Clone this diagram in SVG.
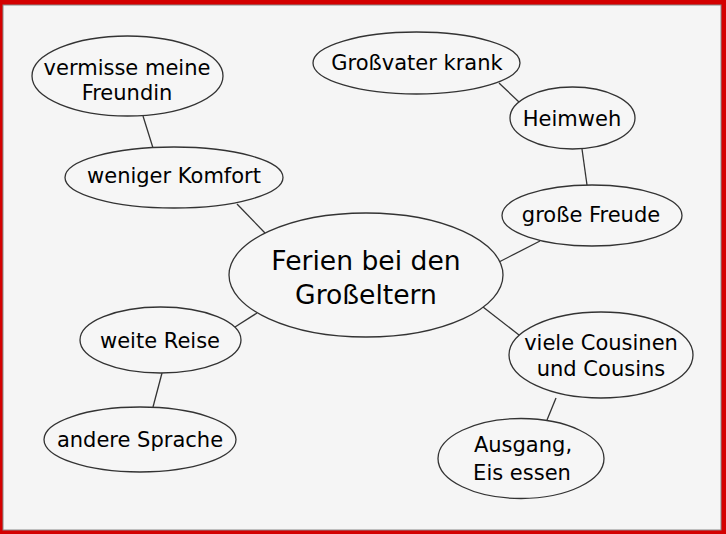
<svg xmlns="http://www.w3.org/2000/svg" width="726" height="534" viewBox="0 0 726 534">
<style>
.n ellipse{fill:#f6f6f6;stroke:#333;stroke-width:1.3}
.n text{font-family:"DejaVu Sans","Noto Sans",sans-serif;font-size:21px;fill:#000;text-anchor:middle}
#central text{font-size:26.6px}
#connectors line{stroke:#333;stroke-width:1.3}
</style>
<rect x="0" y="0" width="726" height="534" fill="#d40000"/>
<rect x="3" y="5" width="718" height="525" fill="#f5f5f5" stroke="#888" stroke-width="1"/>
<g id="connectors">
<line x1="143" y1="116" x2="153" y2="148"/>
<line x1="237" y1="204" x2="265" y2="233"/>
<line x1="499" y1="83" x2="519" y2="102"/>
<line x1="582" y1="149" x2="587" y2="185"/>
<line x1="540" y1="241" x2="499" y2="262"/>
<line x1="483" y1="307" x2="519" y2="335"/>
<line x1="257" y1="313" x2="235" y2="327"/>
<line x1="162" y1="373" x2="153" y2="407"/>
<line x1="556" y1="398" x2="547" y2="420"/>
</g>
<g id="vermisse" class="n"><ellipse cx="127.5" cy="76" rx="95.5" ry="40"/><text x="127" y="75">vermisse meine</text><text x="127" y="100">Freundin</text></g>
<g id="weniger" class="n"><ellipse cx="174" cy="177.5" rx="109" ry="30.5"/><text x="174" y="183">weniger Komfort</text></g>
<g id="grossvater" class="n"><ellipse cx="416.5" cy="63" rx="103.5" ry="31"/><text x="417" y="70">Großvater krank</text></g>
<g id="heimweh" class="n"><ellipse cx="572.5" cy="118" rx="62.5" ry="31"/><text x="572" y="126">Heimweh</text></g>
<g id="freude" class="n"><ellipse cx="592" cy="215.5" rx="90" ry="30.5"/><text x="591" y="222">große Freude</text></g>
<g id="central" class="n"><ellipse cx="366" cy="275" rx="137" ry="62"/><text x="366" y="270">Ferien bei den</text><text x="366" y="304">Großeltern</text></g>
<g id="reise" class="n"><ellipse cx="160.5" cy="340" rx="80.5" ry="33"/><text x="160" y="348">weite Reise</text></g>
<g id="sprache" class="n"><ellipse cx="140" cy="439.5" rx="96" ry="32.5"/><text x="140" y="447">andere Sprache</text></g>
<g id="cousins" class="n"><ellipse cx="601" cy="355" rx="92" ry="43"/><text x="601" y="350">viele Cousinen</text><text x="601" y="376">und Cousins</text></g>
<g id="ausgang" class="n"><ellipse cx="521" cy="458.5" rx="83" ry="40"/><text x="523" y="452">Ausgang,</text><text x="522" y="480">Eis essen</text></g>
</svg>
